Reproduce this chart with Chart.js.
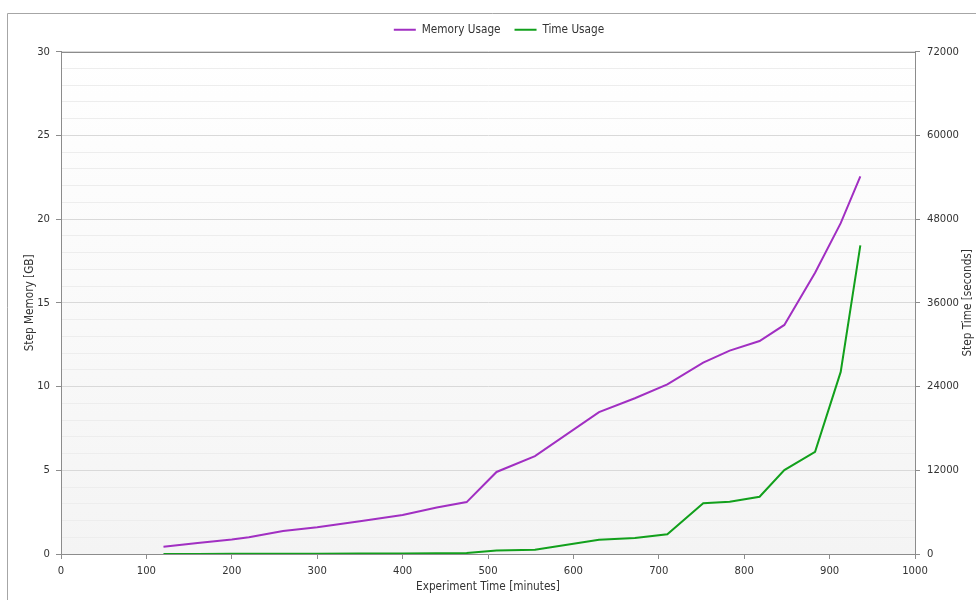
<!DOCTYPE html>
<html>
<head>
<meta charset="utf-8">
<script src="https://cdn.jsdelivr.net/npm/chart.js@4/dist/chart.umd.min.js"></script>
<style>
html,body{margin:0;padding:0;background:#fff;}
#wrap{position:relative;width:976px;height:600px;}
</style>
</head>
<body>
<div id="wrap"><canvas id="c" width="976" height="600"></canvas></div>
<script>
// Experiment time (minutes)
const minutes = [120, 160, 200, 220, 260, 300, 350, 400, 440, 475, 510, 555, 630, 672, 710, 752, 783, 818, 847, 883, 913, 936];
// Step memory (GB)
const memoryGB = [0.43, 0.66, 0.86, 1.0, 1.37, 1.6, 1.95, 2.33, 2.78, 3.1, 4.9, 5.85, 8.47, 9.3, 10.13, 11.43, 12.15, 12.72, 13.68, 16.8, 19.76, 22.56];
// Step time (seconds)
const timeSec = [0, 10, 20, 25, 35, 45, 60, 80, 100, 140, 500, 600, 2050, 2290, 2820, 7260, 7500, 8200, 12020, 14640, 26100, 44230];

const seriesNames = ['Memory Usage', 'Time Usage'];
const axisTitles = {x: 'Experiment Time [minutes]', y: 'Step Memory [GB]', y1: 'Step Time [seconds]'};
const xTicks = {min: 0, max: 1000, step: 100};
const yLeftTicks = {min: 0, max: 30, step: 1, labelEvery: 5};
const yRightTicks = {min: 0, max: 72000, step: 12000};

const FONT = "'DejaVu Sans Condensed','DejaVu Sans',sans-serif";
const FS = 11.7;
const TFS = 11.2;
const TXT = '#333333';
const AXIS = '#8c8c8c';

const bgPlugin = {
  id: 'bg',
  beforeUpdate(chart) {
    const lg = chart.legend;
    if (lg && !lg._patched) {
      const f = lg.fit;
      lg.fit = function () { f.call(this); this.height += 6; };
      lg._patched = true;
    }
  },
  beforeDraw(chart) {
    const {ctx, chartArea: a} = chart;
    ctx.save();
    // outer frame
    ctx.strokeStyle = '#a6a6a6';
    ctx.lineWidth = 1;
    ctx.beginPath();
    ctx.moveTo(7.5, 700); ctx.lineTo(7.5, 13.5); ctx.lineTo(1100, 13.5);
    ctx.stroke();
    // plot background gradient
    const g = ctx.createLinearGradient(0, a.top, 0, a.bottom);
    g.addColorStop(0, '#ffffff');
    g.addColorStop(1, '#f4f4f4');
    ctx.fillStyle = g;
    ctx.fillRect(a.left, a.top, a.right - a.left, a.bottom - a.top);
    ctx.restore();
  },
  afterDraw(chart) {
    const {ctx, chartArea: a} = chart;
    ctx.save();
    ctx.strokeStyle = AXIS;
    ctx.lineWidth = 1;
    ctx.beginPath();
    ctx.moveTo(a.left, Math.round(a.top) + 0.5);
    ctx.lineTo(a.right, Math.round(a.top) + 0.5);
    ctx.stroke();
    // right axis title, reading bottom-to-top
    ctx.fillStyle = TXT;
    ctx.font = FS + 'px ' + FONT;
    ctx.textAlign = 'center';
    ctx.textBaseline = 'middle';
    ctx.translate(968, (a.top + a.bottom) / 2);
    ctx.rotate(-Math.PI / 2);
    ctx.fillText(axisTitles.y1, 0, 0);
    ctx.restore();
  }
};

new Chart(document.getElementById('c'), {
  type: 'line',
  data: {
    datasets: [
      {
        label: seriesNames[0],
        data: minutes.map((m, i) => ({x: m, y: memoryGB[i]})),
        borderColor: '#a12fc2',
        backgroundColor: '#a12fc2',
        borderWidth: 2,
        pointRadius: 0,
        tension: 0,
        yAxisID: 'y'
      },
      {
        label: seriesNames[1],
        data: minutes.map((m, i) => ({x: m, y: timeSec[i]})),
        borderColor: '#12a01c',
        backgroundColor: '#12a01c',
        borderWidth: 2,
        pointRadius: 0,
        tension: 0,
        yAxisID: 'y1'
      }
    ]
  },
  options: {
    responsive: false,
    animation: false,
    events: [],
    layout: {padding: {top: 10, left: 22, right: 0, bottom: 0}},
    plugins: {
      legend: {
        display: true,
        position: 'top',
        labels: {
          boxWidth: 22,
          boxHeight: 2,
          padding: 14,
          color: TXT,
          font: {family: FONT, size: FS},
          generateLabels(chart) {
            return Chart.defaults.plugins.legend.labels.generateLabels(chart).map(l => Object.assign(l, {lineWidth: 0}));
          }
        }
      },
      tooltip: {enabled: false}
    },
    scales: {
      x: {
        type: 'linear',
        min: xTicks.min,
        max: xTicks.max,
        afterFit(s) { s.height = 46; },
        border: {display: true, color: AXIS},
        grid: {drawOnChartArea: false, drawTicks: true, tickLength: 5, tickColor: AXIS},
        ticks: {stepSize: xTicks.step, color: TXT, padding: 5, maxRotation: 0, font: {family: FONT, size: TFS}, callback: (v) => String(v)},
        title: {display: true, text: axisTitles.x, color: TXT, padding: {top: 0, bottom: 6}, font: {family: FONT, size: FS}}
      },
      y: {
        type: 'linear',
        position: 'left',
        min: yLeftTicks.min,
        max: yLeftTicks.max,
        afterFit(s) { s.width = 39; },
        border: {display: true, color: AXIS},
        grid: {
          drawOnChartArea: true,
          drawTicks: true,
          tickLength: 5,
          color: (c) => (c.tick && c.tick.value % yLeftTicks.labelEvery === 0) ? '#d9d9d9' : '#ededed',
          tickColor: (c) => (c.tick && c.tick.value % yLeftTicks.labelEvery === 0) ? AXIS : 'rgba(0,0,0,0)'
        },
        ticks: {
          stepSize: yLeftTicks.step,
          autoSkip: false,
          color: TXT,
          padding: 6,
          font: {family: FONT, size: TFS},
          callback: (v) => (v % yLeftTicks.labelEvery === 0 ? String(v) : '')
        },
        title: {display: true, text: axisTitles.y, color: TXT, padding: {top: 1, bottom: 0}, font: {family: FONT, size: FS}}
      },
      y1: {
        type: 'linear',
        position: 'right',
        min: yRightTicks.min,
        max: yRightTicks.max,
        afterFit(s) { s.width = 61; },
        border: {display: true, color: AXIS},
        grid: {drawOnChartArea: false, drawTicks: true, tickLength: 5, tickColor: AXIS},
        ticks: {stepSize: yRightTicks.step, color: TXT, padding: 7, font: {family: FONT, size: TFS}, callback: (v) => String(v)},
        title: {display: false}
      }
    }
  },
  plugins: [bgPlugin]
});
</script>
</body>
</html>
